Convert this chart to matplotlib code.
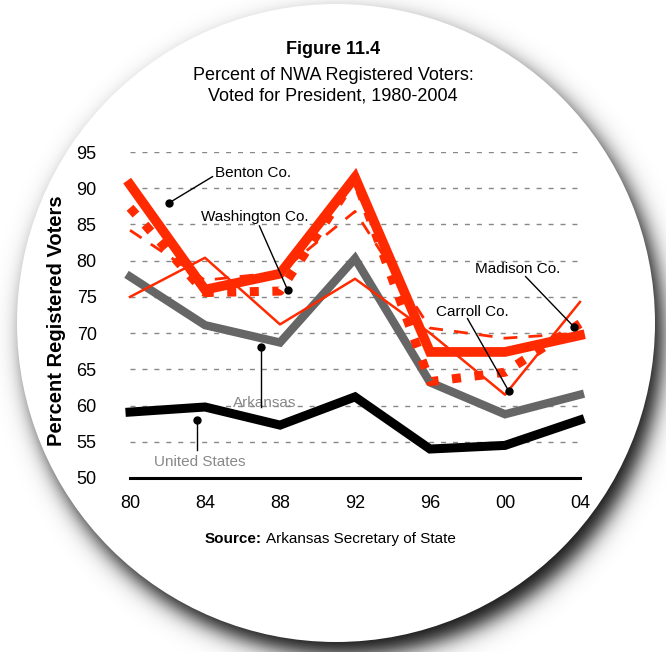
import numpy as np
import matplotlib
matplotlib.use("Agg")
import matplotlib.pyplot as plt
from matplotlib.patches import Circle

plt.rcParams['font.family'] = ['Liberation Sans', 'DejaVu Sans']

years = [80, 84, 88, 92, 96, 100, 104]
year_labels = ['80', '84', '88', '92', '96', '00', '04']

benton = [90.5, 76.0, 78.2, 91.5, 67.4, 67.4, 69.7]
washington = [87.3, 75.6, 75.8, 91.5, 63.3, 64.6, 71.3]
madison = [84.2, 77.3, 78.4, 86.8, 70.7, 69.3, 70.0]
carroll = [75.0, 80.4, 71.2, 77.5, 70.0, 61.5, 74.3]
arkansas = [77.8, 71.1, 68.7, 80.3, 63.2, 58.8, 61.5]
united_states = [59.1, 59.8, 57.3, 61.2, 54.0, 54.5, 58.0]

RED = '#ff2a00'

W, H = 666, 652
fig = plt.figure(figsize=(W / 100, H / 100), dpi=100)

# background: round badge with a soft drop shadow
bg = fig.add_axes([0, 0, 1, 1])
bg.set_xlim(0, W)
bg.set_ylim(H, 0)
bg.axis('off')
cx, cy, r = 336, 323, 319
yy, xx = np.mgrid[0:H, 0:W] + 0.5
d = np.hypot(xx - (cx + 8), yy - (cy + 13)) - r
shade = np.zeros((H, W, 4))
shade[..., 3] = 0.95 / (1 + np.exp(d / 6.5))
bg.imshow(shade, extent=(0, W, H, 0), interpolation='bilinear', zorder=0)
bg.add_patch(Circle((cx, cy), r, fc='white', ec='none', zorder=1))

bg.text(333, 50, 'Figure 11.4', ha='center', va='center', fontsize=13,
        fontweight='bold', zorder=2)
bg.text(333, 75, 'Percent of NWA Registered Voters:', ha='center', va='center',
        fontsize=13, zorder=2)
bg.text(333, 96, 'Voted for President, 1980-2004', ha='center', va='center',
        fontsize=13, zorder=2)
bg.text(57, 321, 'Percent Registered Voters', rotation=90, ha='center',
        va='center', fontsize=14.5, fontweight='bold', zorder=2)
bg.text(262, 539, 'Source:', ha='right', va='center', fontsize=11,
        fontweight='bold', zorder=2)
bg.text(266, 539, 'Arkansas Secretary of State', ha='left', va='center',
        fontsize=11, zorder=2)

# chart
ax = fig.add_axes([130 / W, 1 - 478 / H, 450 / W, 326 / H])
ax.patch.set_visible(False)
ax.set_xlim(80, 104)
ax.set_ylim(50, 95)
ax.set_xticks(years)
ax.set_xticklabels(year_labels)
ax.set_yticks(range(50, 100, 5))
ax.tick_params(length=0, labelsize=13)
ax.tick_params(axis='y', pad=24)
ax.tick_params(axis='x', pad=12)
for s in ['left', 'right', 'top']:
    ax.spines[s].set_visible(False)
ax.spines['bottom'].set_linewidth(2.2)
ax.grid(axis='y', color='#888888', lw=1, ls=(0, (3.6, 5)))
ax.set_axisbelow(True)

ax.plot(years, united_states, color='black', lw=6.5, solid_joinstyle='miter',
        clip_on=False, zorder=3)
ax.plot(years, arkansas, color='#666666', lw=6, solid_joinstyle='miter',
        clip_on=False, zorder=3)
ax.plot(years, carroll, color=RED, lw=1.8, clip_on=False, zorder=4)
ax.plot(years, madison, color=RED, lw=2, ls=(0, (5, 4)), clip_on=False, zorder=4)
ax.plot(years, washington, color=RED, lw=6.5, ls=(0, (1, 1.5)),
        dash_capstyle='butt', clip_on=False, zorder=5)
ax.plot(years, benton, color=RED, lw=7, solid_joinstyle='miter',
        clip_on=False, zorder=6)

# callouts: (label, text pos, line start, dot, colour, text alignment)
callouts = [
    ('Benton Co.', (84.55, 92.1), (84.4, 91.6), (82.1, 88.0), 'black', 'left'),
    ('Washington Co.', (83.8, 86.0), (86.9, 84.8), (88.4, 76.0), 'black', 'left'),
    ('Madison Co.', (98.4, 78.9), (101.1, 77.8), (103.7, 70.8), 'black', 'left'),
    ('Carroll Co.', (96.3, 72.9), (98.0, 72.0), (100.2, 62.0), 'black', 'left'),
    ('Arkansas', (87.2, 60.4), (87.0, 59.8), (87.0, 68.1), '#888888', 'center'),
    ('United States', (83.7, 52.2), (83.6, 53.9), (83.6, 58.0), '#888888', 'center'),
]
for label, tpos, lstart, dot, col, ha in callouts:
    ax.text(tpos[0], tpos[1], label, ha=ha, va='center', fontsize=11,
            color=col, zorder=8)
    ax.plot([lstart[0], dot[0]], [lstart[1], dot[1]], color='black', lw=1,
            zorder=8)
    ax.plot(dot[0], dot[1], 'o', color='black', ms=5, zorder=8)

fig.savefig('out.png', dpi=100)
